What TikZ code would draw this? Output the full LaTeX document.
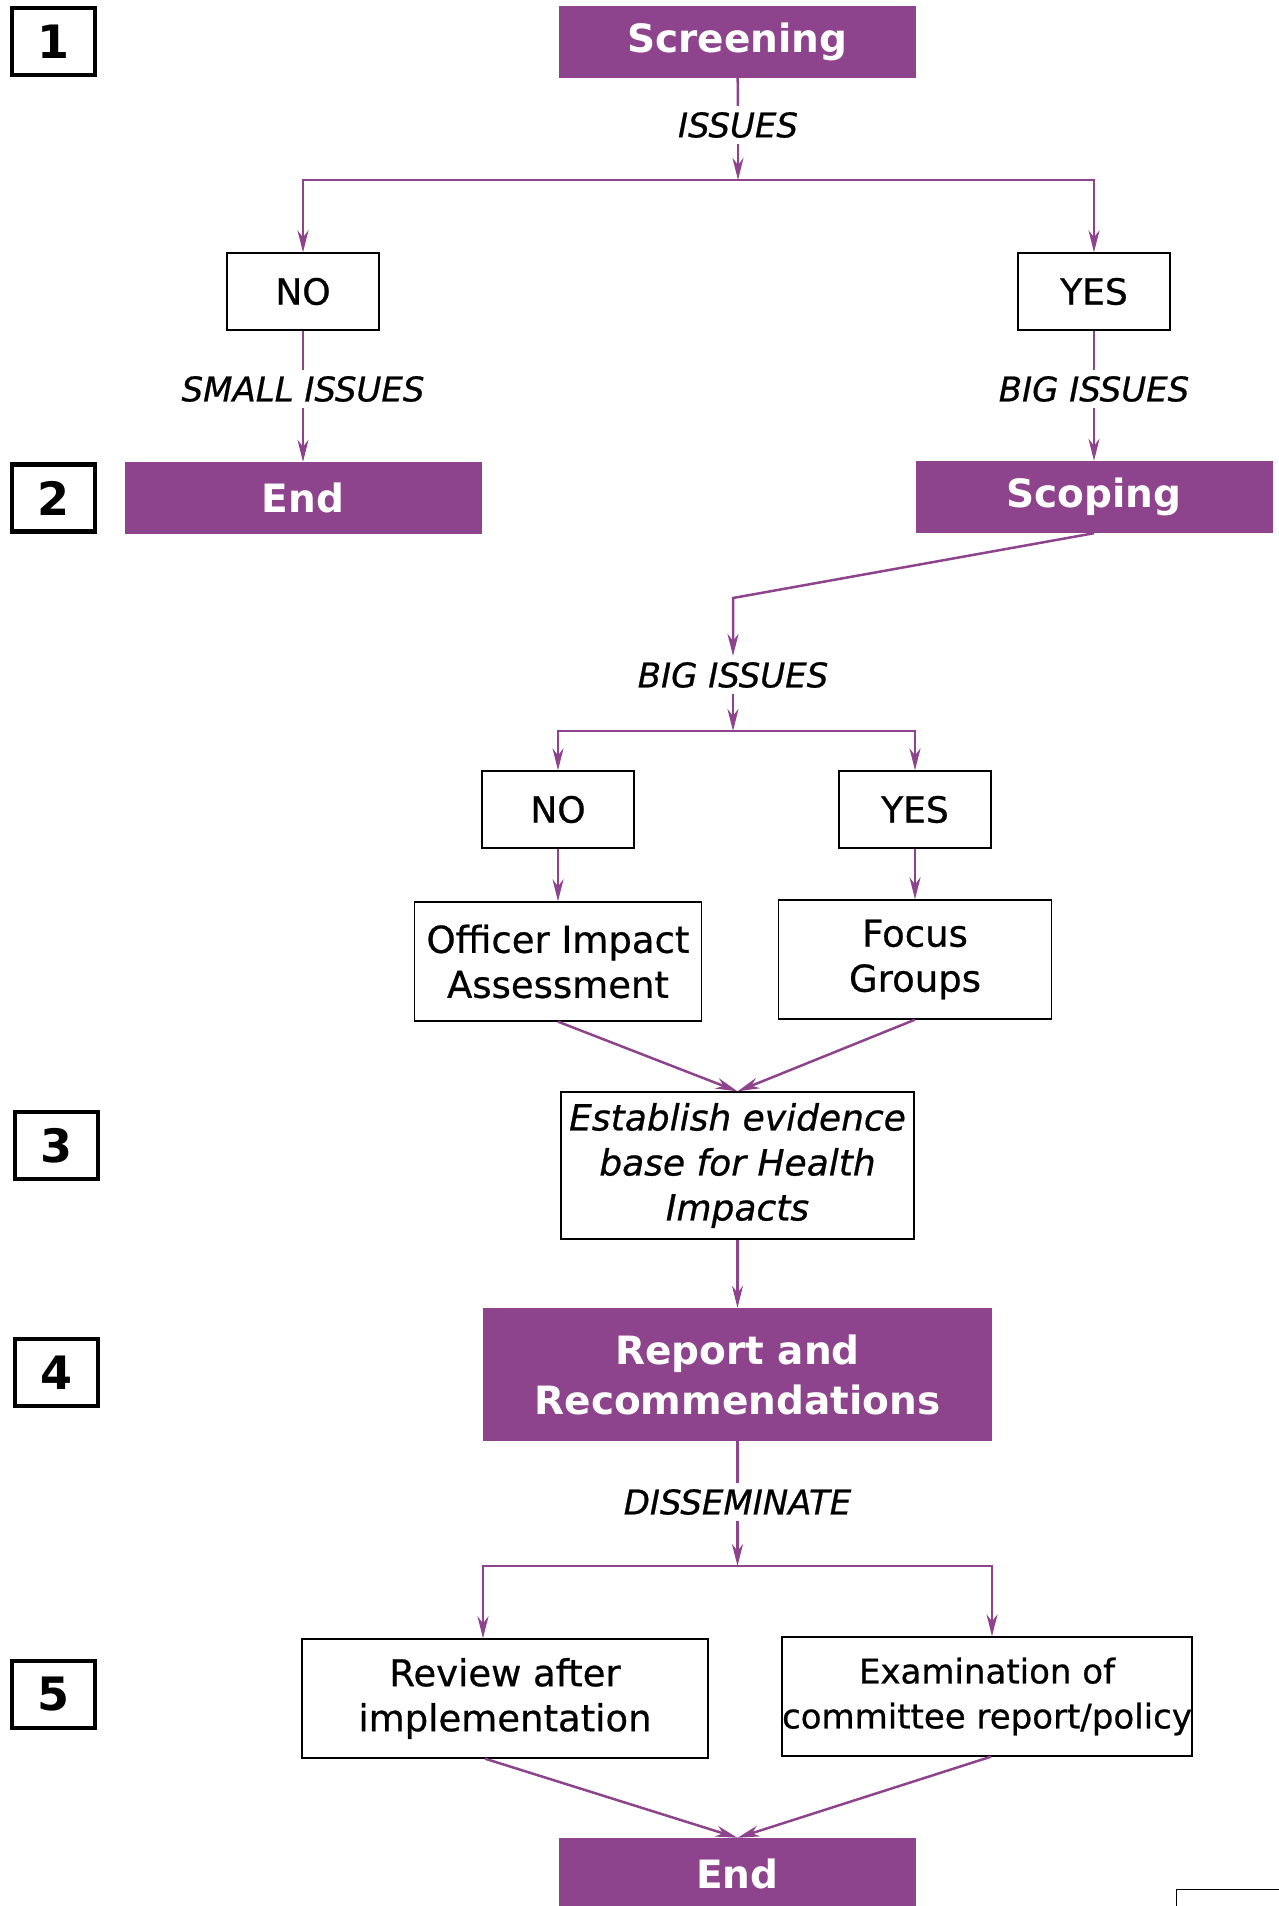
\documentclass[tikz,border=0pt]{standalone}
\usepackage{fontspec}
\setmainfont{DejaVu Sans}
\usetikzlibrary{arrows.meta}
\definecolor{plum}{RGB}{142,68,140}

\begin{document}
\begin{tikzpicture}[x=1pt, y=-1pt,
    stage/.style={fill=plum, text=white, inner sep=0pt, minimum width=357pt, minimum height=72pt, align=center, font=\fontsize{39}{50}\selectfont\bfseries},
    choice/.style={draw=black, line width=1.3pt, fill=white, minimum width=152pt, minimum height=77pt, inner sep=0pt, font=\fontsize{36}{45}\selectfont\addfontfeature{FakeBold=0.7}},
    task/.style={draw=black, line width=1.3pt, inner sep=0pt, align=center, font=\fontsize{37}{45}\selectfont\addfontfeature{FakeBold=0.7}},
    tag/.style={inner sep=6pt, font=\fontsize{34}{40}\selectfont\itshape\addfontfeature{FakeBold=0.7}},
    marker/.style={draw=black, line width=4.5pt, minimum width=83pt, minimum height=67pt, inner sep=0pt, font=\fontsize{46}{50}\selectfont\bfseries},
    flow/.style={plum, line width=2.5pt},
    arrow/.style={flow, -{Stealth[length=22pt, width=11pt, inset=7pt]}}]

        \useasboundingbox (0,0) rectangle (1278,1906);

        % Step markers
        \node[marker] (m1) at (53.5,41.5) {1};
        \node[marker] (m2) at (53.5,498) {2};
        \node[marker] (m3) at (56.5,1145.5) {3};
        \node[marker] (m4) at (56.5,1372.5) {4};
        \node[marker] (m5) at (53.5,1694.5) {5};

        % Screening stage
        \node[stage] (screening) at (737.5,42) {Screening};
        \node[tag] (issues) at (738,125) {ISSUES};
        \coordinate (split1) at (738,180);
        \node[choice] (no1) at (303,291.5) {NO};
        \node[choice] (yes1) at (1094,291.5) {YES};
        \node[tag] (small) at (303,389) {SMALL ISSUES};
        \node[tag] (big1) at (1094,389) {BIG ISSUES};
        \node[stage] (end1) at (303,498) {End};
        \node[stage] (scoping) at (1094,497) {Scoping};

        \draw[flow] (screening) -- (issues);
        \draw[arrow] (issues) -- (split1);
        \draw[arrow] (split1) -| (no1);
        \draw[arrow] (split1) -| (yes1);
        \draw[flow] (no1) -- (small);
        \draw[arrow] (small) -- (end1);
        \draw[flow] (yes1) -- (big1);
        \draw[arrow] (big1) -- (scoping);

        % Scoping stage
        \coordinate (bend) at (733,598);
        \node[tag] (big2) at (733,675) {BIG ISSUES};
        \coordinate (split2) at (733,731);
        \node[choice] (no2) at (558,809.5) {NO};
        \node[choice] (yes2) at (915,809.5) {YES};
        \node[task, minimum width=287pt, minimum height=119pt] (officer) at (558,961.5) {Officer Impact\\Assessment};
        \node[task, minimum width=273pt, minimum height=119pt] (focus) at (915,959.5) {Focus\\Groups};

        \draw[arrow] (scoping.south) -- (bend) -- (big2);
        \draw[arrow] (big2) -- (split2);
        \draw[arrow] (split2) -| (no2);
        \draw[arrow] (split2) -| (yes2);
        \draw[arrow] (no2) -- (officer);
        \draw[arrow] (yes2) -- (focus);

        % Evidence and report
        \node[task, minimum width=353pt, minimum height=147pt, font=\fontsize{36}{45}\selectfont\itshape\addfontfeature{FakeBold=0.7}] (evidence) at (737.5,1165.5) {Establish evidence\\base for Health\\Impacts};
        \node[stage, minimum width=509pt, minimum height=133pt] (report) at (737.5,1374.5) {Report and\\Recommendations};

        \draw[arrow] (officer.south) -- (evidence.north);
        \draw[arrow] (focus.south) -- (evidence.north);
        \draw[arrow] (evidence) -- (report);

        % Dissemination
        \node[tag] (dissem) at (737.5,1502) {DISSEMINATE};
        \coordinate (split3) at (737.5,1566);
        \node[task, minimum width=406pt, minimum height=119pt] (review) at (505,1698.5) {Review after\\implementation};
        \node[task, minimum width=408pt, minimum height=119pt, font=\fontsize{34}{45}\selectfont\addfontfeature{FakeBold=0.7}] (exam) at (987,1696.5) {Examination of\\committee report/policy};
        \node[stage] (end2) at (737.5,1874) {End};
        \node[draw=black, line width=1.3pt, minimum width=130pt, minimum height=60pt, anchor=north west] (stub) at (1176,1889) {};

        \draw[flow] (report) -- (dissem);
        \draw[arrow] (dissem) -- (split3);
        \draw[arrow] (split3) -| ([xshift=-22pt]review.north);
        \draw[arrow] (split3) -| ([xshift=5pt]exam.north);
        \draw[arrow] ([xshift=-20pt]review.south) -- (end2.north);
        \draw[arrow] ([xshift=4pt]exam.south) -- (end2.north);

    \end{tikzpicture}
\end{document}
